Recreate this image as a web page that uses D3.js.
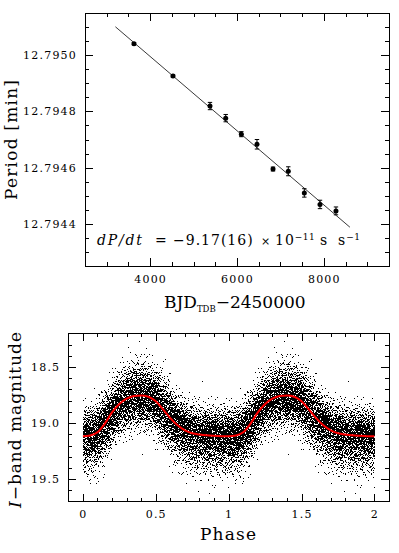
<!DOCTYPE html>
<meta charset="utf-8">
<script src="https://d3js.org/d3.v7.min.js"></script>
<style>
  body { margin: 0; background: #fff; }
  text { font-family: "DejaVu Serif", serif; fill: #000; }
  .tick text { font-size: 11px; letter-spacing: 1.2px; }
</style>
<div id="chart"></div>
<script>
// ---- top panel: period measurements ----
var epochs    = [3628, 4526, 5378, 5740, 6100, 6460, 6829, 7181, 7550, 7911, 8279];
var periods   = [12.795041, 12.794926, 12.794819, 12.794776, 12.794719, 12.794683,
                 12.794595, 12.794587, 12.794510, 12.794469, 12.794446];
var periodErr = [0.000004, 0.000004, 0.000013, 0.000013, 0.000009, 0.000017,
                 0.000007, 0.000016, 0.000015, 0.000015, 0.000014];
// linear fit, end points as drawn
var fitX = [3200, 8600];
var fitP = [12.795101, 12.794388];
var topXTicks  = [4000, 6000, 8000];
var topXLabels = ["4000", "6000", "8000"];
var topYTicks  = [12.7944, 12.7946, 12.7948, 12.7950];
var topYLabels = ["12.7944", "12.7946", "12.7948", "12.7950"];

// ---- bottom panel: folded I-band light curve ----
// model curve (one cycle, repeated for phase 1-2)
var lcPhase = [0, 0.05, 0.1, 0.15, 0.2, 0.25, 0.3, 0.35, 0.4, 0.45, 0.5,
               0.55, 0.6, 0.65, 0.7, 0.75, 0.8, 0.85, 0.9, 0.95, 1.0];
var lcMag   = [19.117, 19.110, 19.082, 19.005, 18.905, 18.830, 18.782, 18.758, 18.753, 18.765, 18.805,
               18.878, 18.955, 19.020, 19.065, 19.090, 19.102, 19.109, 19.113, 19.116, 19.117];
// scatter of the photometry around the curve, per 0.1 phase bin (mag),
// bright side / faint side, read from the extent of the dot cloud
var sigBright = [0.115, 0.13, 0.13, 0.14, 0.14, 0.14, 0.12, 0.12, 0.115, 0.115];
var sigFaint  = [0.15, 0.14, 0.125, 0.13, 0.13, 0.14, 0.145, 0.15, 0.15, 0.15];
var nPerCycle = 9000;
var botXTicks  = [0, 0.5, 1, 1.5, 2];
var botXLabels = ["0", "0.5", "1", "1.5", "2"];
var botYTicks  = [18.5, 19.0, 19.5];
var botYLabels = ["18.5", "19.0", "19.5"];

var svg = d3.select("#chart").append("svg")
  .attr("width", 399)
  .attr("height", 553);

var pTop = {left: 85, right: 389, top: 13, bottom: 266};
var pBot = {left: 68.3, right: 389, top: 333.3, bottom: 501.7};

function minors(lo, hi, step, majors) {
  var out = [];
  var n = Math.round((hi - lo) / step);
  for (var i = 1; i < n; i++) {
    var v = lo + i * step;
    if (!majors.some(m => Math.abs(m - v) < step / 10)) out.push(v);
  }
  return out;
}

// frame with inward ticks on all four sides
function frame(box, x, y, xMaj, xMin, xLab, yMaj, yMin, yLab) {
  var g = svg.append("g").attr("shape-rendering", "crispEdges");
  function put(axis, tr) {
    g.append("g").attr("transform", tr).call(axis)
      .call(s => s.select(".domain").remove());
  }
  put(d3.axisBottom(x).tickValues(xMaj).tickSize(-8).tickPadding(9).tickFormat((d, i) => xLab[i]),
      "translate(0," + box.bottom + ")");
  put(d3.axisBottom(x).tickValues(xMin).tickSize(-4).tickFormat(""), "translate(0," + box.bottom + ")");
  put(d3.axisTop(x).tickValues(xMaj).tickSize(-8).tickFormat(""), "translate(0," + box.top + ")");
  put(d3.axisTop(x).tickValues(xMin).tickSize(-4).tickFormat(""), "translate(0," + box.top + ")");
  put(d3.axisLeft(y).tickValues(yMaj).tickSize(-8).tickPadding(8).tickFormat((d, i) => yLab[i]),
      "translate(" + box.left + ",0)");
  put(d3.axisLeft(y).tickValues(yMin).tickSize(-4).tickFormat(""), "translate(" + box.left + ",0)");
  put(d3.axisRight(y).tickValues(yMaj).tickSize(-8).tickFormat(""), "translate(" + box.right + ",0)");
  put(d3.axisRight(y).tickValues(yMin).tickSize(-4).tickFormat(""), "translate(" + box.right + ",0)");
  g.append("rect")
    .attr("x", box.left).attr("y", box.top)
    .attr("width", box.right - box.left).attr("height", box.bottom - box.top)
    .attr("fill", "none").attr("stroke", "#000");
}

// ---------------- top panel ----------------
var x1 = d3.scaleLinear().domain([2500, 9500]).range([pTop.left, pTop.right]);
var y1 = d3.scaleLinear().domain([12.79425, 12.79515]).range([pTop.bottom, pTop.top]);

frame(pTop, x1, y1,
  topXTicks, minors(2500, 9500, 500, topXTicks), topXLabels,
  topYTicks, minors(12.79425, 12.79515, 0.00005, topYTicks), topYLabels);

svg.append("path")
  .datum(fitX.map((d, i) => [d, fitP[i]]))
  .attr("fill", "none")
  .attr("stroke", "#222")
  .attr("stroke-width", 0.9)
  .attr("d", d3.line().x(d => x1(d[0])).y(d => y1(d[1])));

var pts = epochs.map((d, i) => ({t: d, p: periods[i], e: periodErr[i]}));
var eb = svg.append("g").attr("stroke", "#000").attr("stroke-width", 1);
eb.selectAll(".bar").data(pts).enter().append("line")
  .attr("x1", d => x1(d.t)).attr("x2", d => x1(d.t))
  .attr("y1", d => y1(d.p - d.e)).attr("y2", d => y1(d.p + d.e));
eb.selectAll(".capl").data(pts).enter().append("line")
  .attr("x1", d => x1(d.t) - 2.2).attr("x2", d => x1(d.t) + 2.2)
  .attr("y1", d => y1(d.p - d.e)).attr("y2", d => y1(d.p - d.e));
eb.selectAll(".caph").data(pts).enter().append("line")
  .attr("x1", d => x1(d.t) - 2.2).attr("x2", d => x1(d.t) + 2.2)
  .attr("y1", d => y1(d.p + d.e)).attr("y2", d => y1(d.p + d.e));
svg.append("g").selectAll("circle").data(pts).enter().append("circle")
  .attr("cx", d => x1(d.t))
  .attr("cy", d => y1(d.p))
  .attr("r", 2.5)
  .attr("fill", "#000");

// rate annotation
var note = svg.append("text").attr("y", 245).style("font-size", "14px").style("letter-spacing", "1px");
note.append("tspan").attr("x", 97).style("font-style", "italic").style("letter-spacing", "1.8px").text("dP/dt");
note.append("tspan").attr("x", 155).text("=");
note.append("tspan").attr("x", 173).text("\u22129.17(16)");
note.append("tspan").attr("x", 261).style("font-size", "11px").text("\u00d7");
note.append("tspan").attr("x", 275).text("10");
note.append("tspan").attr("dy", -5).style("font-size", "9px").style("letter-spacing", "0.5px").text("\u221211");
note.append("tspan").attr("x", 320).attr("dy", 5).text("s");
note.append("tspan").attr("x", 338).text("s");
note.append("tspan").attr("dy", -5).style("font-size", "9px").style("letter-spacing", "0.5px").text("\u22121");

// axis titles
var xt = svg.append("text").attr("x", 164).attr("y", 308).style("font-size", "17px");
xt.append("tspan").text("BJD");
xt.append("tspan").attr("dy", 4).style("font-size", "8.5px").text("TDB");
xt.append("tspan").attr("dy", -4).text("\u22122450000");

svg.append("text")
  .attr("transform", "translate(17,140) rotate(-90)")
  .attr("text-anchor", "middle")
  .attr("textLength", 120)
  .style("font-size", "17px")
  .text("Period [min]");

// ---------------- bottom panel ----------------
var x2 = d3.scaleLinear().domain([-0.1, 2.1]).range([pBot.left, pBot.right]);
var y2 = d3.scaleLinear().domain([18.2, 19.7]).range([pBot.top, pBot.bottom]);

svg.append("clipPath").attr("id", "clipBot").append("rect")
  .attr("x", pBot.left).attr("y", pBot.top)
  .attr("width", pBot.right - pBot.left).attr("height", pBot.bottom - pBot.top);

// photometric points: individual dots cannot be read off the picture, so the
// cloud is laid out from the read curve and spreads with a fixed Halton sequence
function halton(i, b) {
  var f = 1, r = 0;
  while (i > 0) { f /= b; r += f * (i % b); i = Math.floor(i / b); }
  return r;
}
var centre = d3.scaleLinear().domain(lcPhase).range(lcMag);
var cloud = [];
for (var k = 1; k <= nPerCycle; k++) {
  var ph = halton(k + 30, 2), u1 = halton(k + 30, 3), u2 = halton(k + 30, 5);
  var z = Math.sqrt(-2 * Math.log(u1)) * Math.cos(2 * Math.PI * u2);
  var bin = Math.min(9, Math.floor(ph * 10));
  var m = centre(ph) + z * (z < 0 ? sigBright[bin] : sigFaint[bin]);
  cloud.push([ph, m], [ph + 1, m]);
}

svg.append("g")
  .attr("clip-path", "url(#clipBot)")
  .attr("shape-rendering", "crispEdges")
  .selectAll("rect").data(cloud).enter().append("rect")
    .attr("x", d => Math.round(x2(d[0])))
    .attr("y", d => Math.round(y2(d[1])))
    .attr("width", 1)
    .attr("height", 1)
    .attr("fill", "#000");

var curveData = lcPhase.map((d, i) => [d, lcMag[i]])
  .concat(lcPhase.slice(1).map((d, i) => [d + 1, lcMag[i + 1]]));
svg.append("path")
  .datum(curveData)
  .attr("fill", "none")
  .attr("stroke", "#ff0000")
  .attr("stroke-width", 2)
  .attr("d", d3.line().curve(d3.curveMonotoneX).x(d => x2(d[0])).y(d => y2(d[1])));

frame(pBot, x2, y2,
  botXTicks, minors(-0.1, 2.1, 0.1, botXTicks), botXLabels,
  botYTicks, minors(18.2, 19.7, 0.1, botYTicks), botYLabels);

svg.append("text")
  .attr("x", 228).attr("y", 540)
  .attr("text-anchor", "middle")
  .attr("textLength", 56)
  .style("font-size", "17px")
  .text("Phase");

var yt = svg.append("text")
  .attr("transform", "translate(21,420) rotate(-90)")
  .attr("text-anchor", "middle")
  .attr("textLength", 176)
  .style("font-size", "17px");
yt.append("tspan").style("font-style", "italic").text("I");
yt.append("tspan").text("\u2212band magnitude");
</script>
